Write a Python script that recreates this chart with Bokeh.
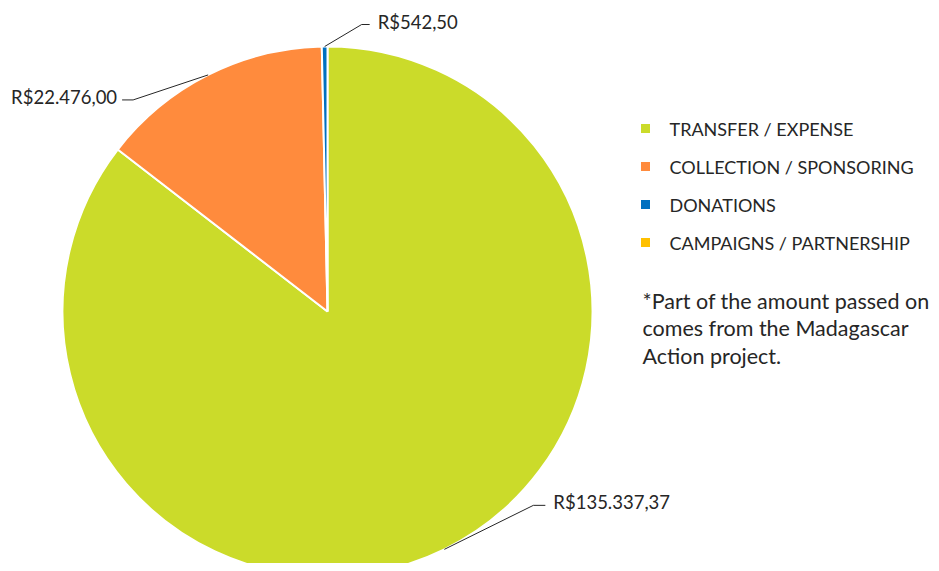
import math
from bokeh.plotting import figure
from bokeh.models import Range1d
from bokeh.core.properties import value
from bokeh.embed import file_html
from bokeh.resources import INLINE

categories = ["TRANSFER / EXPENSE", "COLLECTION / SPONSORING", "DONATIONS", "CAMPAIGNS / PARTNERSHIP"]
amounts = [135337.37, 22476.00, 542.50, 0.0]
value_labels = ["R$135.337,37", "R$22.476,00", "R$542,50", ""]
colors = ["#CBDB2A", "#FF8B3D", "#0070C0", "#FFC000"]
note_lines = ["*Part of the amount passed on", "comes from the Madagascar", "Action project."]

FONT = "Lato"
W, H = 931, 563
p = figure(width=W, height=H, output_backend="svg", toolbar_location=None,
           x_range=Range1d(0, W), y_range=Range1d(0, H),
           x_axis_location=None, y_axis_location=None, min_border=0)
p.grid.visible = False
p.outline_line_color = None

def Y(img_y):
    return H - img_y

cx, cy, r = 327, Y(311), 265
total = sum(amounts)

cum = 0.0
mids = []
for a, c in zip(amounts, colors):
    f0 = cum / total
    cum += a
    f1 = cum / total
    mids.append((f0 + f1) / 2)
    if a <= 0:
        continue
    start = math.pi / 2 - f1 * 2 * math.pi
    end = math.pi / 2 - f0 * 2 * math.pi
    p.wedge(x=[cx], y=[cy], radius=r, start_angle=[start], end_angle=[end],
            direction="anticlock", fill_color=c, line_color="white", line_width=2)

# label leader lines: (elbow dx, dy, horizontal length) offsets, text side
label_layout = [
    (89, 44, 12, "left"),    # green
    (-75, -25, -11, "right"),  # orange
    (37, 22, 8, "left"),     # blue
]
for i, (dx, dy, hl, side) in enumerate(label_layout):
    ang = math.pi / 2 - mids[i] * 2 * math.pi
    ax = cx + r * math.cos(ang)
    ay = cy + r * math.sin(ang)
    ex, ey = ax + dx, ay + dy
    hx = ex + hl
    p.line([ax, ex, hx], [ay, ey, ey], line_color="#262626", line_width=1)
    tx = hx + (8 if side == "left" else -5)
    p.text(x=[tx], y=[ey + 3], text=[value_labels[i]], text_font=value(FONT),
           text_font_size="18.5px", text_color="#262626", text_align=side,
           text_baseline="middle")

# legend
for i, (cat, c) in enumerate(zip(categories, colors)):
    yy = Y(128 + 38 * i)
    p.scatter(x=[645], y=[yy], marker="square", size=9, fill_color=c, line_color=None)
    p.text(x=[669], y=[yy], text=[cat], text_font=value(FONT), text_font_size="18px",
           text_color="#262626", text_align="left", text_baseline="middle")

for j, line in enumerate(note_lines):
    p.text(x=[642], y=[Y(300 + 27.5 * j)], text=[line], text_font=value(FONT),
           text_font_size="21.5px", text_color="#262626", text_align="left",
           text_baseline="middle")

open("out.html", "w").write(file_html(p, INLINE))
